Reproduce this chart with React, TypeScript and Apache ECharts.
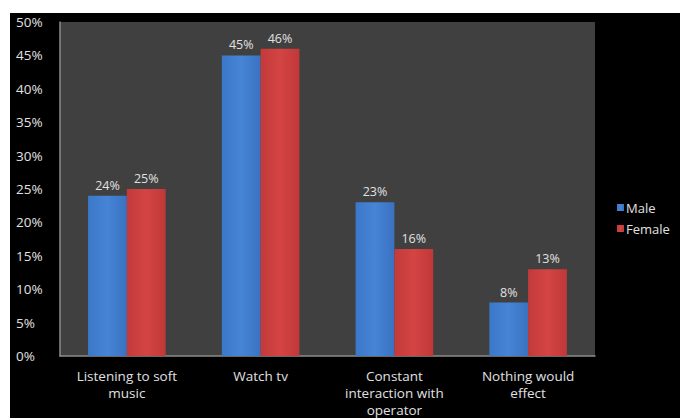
import React, { useEffect, useRef } from "react";
import * as echarts from "echarts";

const categories = ["Listening to soft\nmusic", "Watch tv", "Constant\ninteraction with\noperator", "Nothing would\neffect"];
const maleValues = [24, 45, 23, 8];
const femaleValues = [25, 46, 16, 13];
const seriesNames = ["Male", "Female"];

export default function App() {
  const ref = useRef<HTMLDivElement>(null);
  useEffect(() => {
    document.body.style.margin = "0";
    const chart = echarts.init(ref.current!, null, { renderer: "svg" });
    const font = "'Open Sans', Lato, sans-serif";
    const labelCommon = {
      show: true,
      position: "top" as const,
      color: "#e0e0e0",
      fontSize: 12.5,
      fontFamily: font,
      formatter: (p: any) => p.value + "%",
      distance: 4,
    };
    chart.setOption({
      animation: false,
      backgroundColor: "#ffffff",
      graphic: [
        { type: "rect", left: 10, top: 13, shape: { width: 670, height: 405 }, style: { fill: "#000000" }, z: -10 },
      ],
      grid: {
        left: 60,
        top: 22,
        width: 535,
        height: 337,
        show: true,
        backgroundColor: "#404040",
        borderWidth: 0,
      },
      legend: {
        orient: "vertical",
        left: 612,
        top: 196,
        itemWidth: 7,
        itemHeight: 7,
        itemGap: 8,
        icon: "rect",
        textStyle: { color: "#e0e0e0", fontSize: 13, fontFamily: font, padding: [0, 0, 0, -3] },
        data: seriesNames,
      },
      xAxis: {
        type: "category",
        data: categories,
        axisLine: { show: true, lineStyle: { color: "#8c8c8c", width: 1.5 } },
        axisTick: { show: false },
        axisLabel: { color: "#e0e0e0", fontSize: 13.5, fontFamily: font, lineHeight: 17, margin: 11, interval: 0 },
      },
      yAxis: {
        type: "value",
        min: 0,
        max: 50,
        interval: 5,
        axisLine: { show: true, lineStyle: { color: "#8c8c8c", width: 1.5 } },
        axisTick: { show: false },
        splitLine: { show: false },
        axisLabel: {
          color: "#e0e0e0",
          fontSize: 13.5,
          fontFamily: font,
          formatter: "{value}%",
          align: "left",
          margin: 44,
        },
      },
      series: [
        {
          name: seriesNames[0],
          type: "bar",
          data: maleValues,
          barGap: "0%",
          barCategoryGap: "42%",
          itemStyle: {
            color: new echarts.graphic.LinearGradient(0, 0, 1, 0, [
              { offset: 0, color: "#3c78c8" },
              { offset: 0.5, color: "#4684d6" },
              { offset: 1, color: "#3a72c0" },
            ]),
          },
          label: labelCommon,
        },
        {
          name: seriesNames[1],
          type: "bar",
          data: femaleValues,
          barGap: "0%",
          barCategoryGap: "42%",
          itemStyle: {
            color: new echarts.graphic.LinearGradient(0, 0, 1, 0, [
              { offset: 0, color: "#c23a3a" },
              { offset: 0.5, color: "#d44444" },
              { offset: 1, color: "#c03838" },
            ]),
          },
          label: labelCommon,
        },
      ],
    });
    return () => chart.dispose();
  }, []);
  return <div ref={ref} style={{ width: 680, height: 418, position: "absolute", left: 0, top: 0 }} />;
}
